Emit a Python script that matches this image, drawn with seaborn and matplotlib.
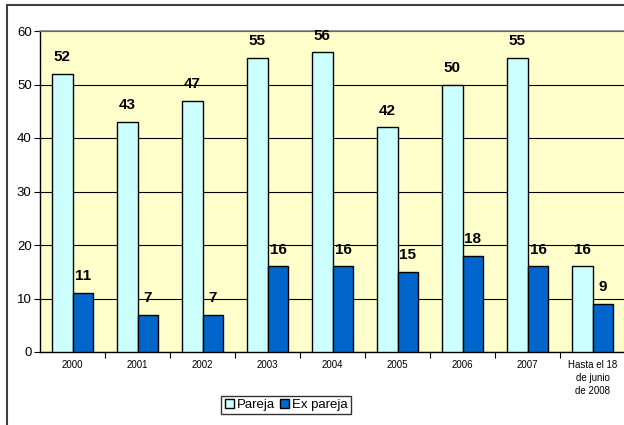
import pandas as pd
import matplotlib.pyplot as plt
import matplotlib.patches as mpatches
import seaborn as sns

# Chart data
categorias = ['2000', '2001', '2002', '2003', '2004', '2005', '2006', '2007',
              'Hasta el 18\nde junio\nde 2008']
pareja = [52, 43, 47, 55, 56, 42, 50, 55, 16]
ex_pareja = [11, 7, 7, 16, 16, 15, 18, 16, 9]

df = pd.DataFrame({
    'cat': categorias * 2,
    'valor': pareja + ex_pareja,
    'serie': ['Pareja'] * len(pareja) + ['Ex pareja'] * len(ex_pareja),
})

sns.set_style('white')
plt.rcParams['font.family'] = ['Liberation Sans', 'DejaVu Sans']
plt.rcParams['text.color'] = 'black'
plt.rcParams['xtick.color'] = 'black'
plt.rcParams['ytick.color'] = 'black'

fig = plt.figure(figsize=(6.24, 4.25), dpi=100)
ax = fig.add_axes([40 / 624, 1 - 352 / 425, 585 / 624, (352 - 31) / 425])
ax.set_facecolor('#FFFFCC')

sns.barplot(data=df, x='cat', y='valor', hue='serie',
            palette=['#CCFFFF', '#0066CC'], saturation=1,
            edgecolor='black', linewidth=1,
            width=0.646, ax=ax, zorder=3)

for cont in ax.containers:
    ax.bar_label(cont, fontsize=11, fontweight='bold', padding=7, color='black')

ax.set_ylim(0, 60)
ax.set_xlim(-0.5, len(categorias) - 0.5)
ax.set_yticks(range(0, 61, 10))
ax.yaxis.grid(True, color='black', linewidth=0.8, zorder=0)
ax.set_axisbelow(True)
ax.tick_params(axis='y', labelsize=9.5, length=4, width=0.8, left=True,
               direction='out', color='black', pad=2)
ax.tick_params(axis='x', labelsize=7, length=0, pad=6)
ax.set_xticks(range(len(categorias)))
ax.set_xticklabels(categorias, linespacing=1.35)
ax.set_xticks([i + 0.5 for i in range(len(categorias))], minor=True)
ax.tick_params(axis='x', which='minor', length=4, width=0.8, bottom=True,
               color='black')
ax.set_xlabel('')
ax.set_ylabel('')

for s in ['left', 'bottom']:
    ax.spines[s].set_color('black')
    ax.spines[s].set_linewidth(1)
ax.spines['top'].set_color('#808080')
ax.spines['top'].set_linewidth(1.2)
ax.spines['right'].set_visible(False)

leg = ax.legend(loc='center', bbox_to_anchor=(286 / 624, 1 - 405 / 425),
                bbox_transform=fig.transFigure, ncol=2, fontsize=9.5,
                frameon=True, fancybox=False, handlelength=0.7,
                handleheight=0.7, handletextpad=0.2, columnspacing=0.4,
                borderpad=0.25, borderaxespad=0)
leg.get_frame().set_edgecolor('black')
leg.get_frame().set_linewidth(1)

# outer chart border (clipped at right and bottom)
fig.patches.append(mpatches.Rectangle((7 / 624, -0.1), 1.2, 1 - 5 / 425 + 0.1,
                                      transform=fig.transFigure, fill=False,
                                      edgecolor='#404040', linewidth=1.5))

plt.savefig('out.png', dpi=100)
